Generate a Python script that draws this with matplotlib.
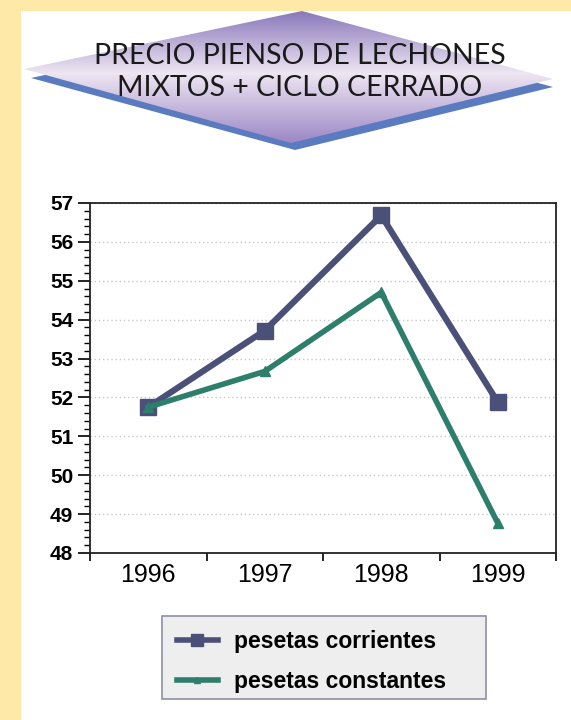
import matplotlib
matplotlib.use("Agg")
import matplotlib.pyplot as plt
import numpy as np
from matplotlib.patches import Polygon, Rectangle
from matplotlib.colors import LinearSegmentedColormap
from matplotlib.ticker import MultipleLocator
from matplotlib.lines import Line2D

years = ["1996", "1997", "1998", "1999"]
corrientes = [51.75, 53.72, 56.68, 51.88]
constantes = [51.75, 52.67, 54.70, 48.77]
series_labels = ["pesetas corrientes", "pesetas constantes"]
title_lines = ["PRECIO PIENSO DE LECHONES", "MIXTOS + CICLO CERRADO"]

W, H = 571, 720
fig = plt.figure(figsize=(W / 100, H / 100), dpi=100)
fig.patch.set_facecolor("#FEE9A9")

def fx(x):
    return x / W

def fy(y):
    return 1 - y / H

# white panel
fig.patches.append(Rectangle((fx(21), 0), 1 - fx(21), fy(11), transform=fig.transFigure,
                             facecolor="white", edgecolor="none", zorder=0))

# title diamond shadow
shadow = [(31, 78), (302, 19), (553, 87), (295, 150)]
fig.patches.append(Polygon([(fx(a), fy(b)) for a, b in shadow], closed=True,
                           transform=fig.transFigure, facecolor="#5A7BC0",
                           edgecolor="none", zorder=1))

# diamond with gradient
dia = [(24, 69), (302, 11), (553, 79), (291, 143)]
tax = fig.add_axes([fx(0), fy(160), 1, fy(0) - fy(160)], zorder=2)
tax.set_xlim(0, W)
tax.set_ylim(160, 0)
tax.axis("off")
tax.patch.set_alpha(0)
cmap = LinearSegmentedColormap.from_list(
    "g", [(0, "#8A78BB"), (0.47, "#EEE6F2"), (1, "#9C88C6")])
grad = np.linspace(0, 1, 200).reshape(-1, 1)
im = tax.imshow(grad, extent=(0, W, 143, 11), aspect="auto", cmap=cmap, zorder=2)
poly = Polygon(dia, closed=True, facecolor="none", edgecolor="none")
tax.add_patch(poly)
im.set_clip_path(poly)
tax.text(300, 56, title_lines[0], ha="center", va="center", fontsize=20.5,
         family="Lato", fontweight="normal", color="#1A1A1A", zorder=3)
tax.text(300, 88, title_lines[1], ha="center", va="center", fontsize=20.5,
         family="Lato", fontweight="normal", color="#1A1A1A", zorder=3)

# main chart
ax = fig.add_axes([fx(90), fy(553), fx(556) - fx(90), fy(203) - fy(553)], zorder=3)
x = np.arange(len(years))
ax.plot(x, corrientes, color="#4B5079", lw=4.5, marker="s", markersize=11,
        markerfacecolor="#4B5079", markeredgecolor="#4B5079", zorder=4)
ax.plot(x, constantes, color="#2E7E6C", lw=4, marker="^", markersize=7,
        markerfacecolor="#2E7E6C", markeredgecolor="#2E7E6C", zorder=5)
ax.set_xlim(-0.5, 3.5)
ax.set_ylim(48, 57)
ax.set_xticks(np.arange(-0.5, 4, 1))
ax.set_xticklabels([])
ax.set_xticks(x, minor=True)
ax.set_xticklabels(years, minor=True, fontsize=18, family="Liberation Sans")
ax.tick_params(axis="x", which="minor", length=0, pad=7)
ax.tick_params(axis="x", which="major", length=6, direction="out", width=1.2)
ax.yaxis.set_major_locator(MultipleLocator(1))
ax.yaxis.set_minor_locator(MultipleLocator(0.2))
ax.tick_params(axis="y", which="major", length=9, width=1.2, direction="out", pad=3)
ax.tick_params(axis="y", which="minor", length=4, width=1, direction="out")
for lab in ax.get_yticklabels():
    lab.set_fontsize(15)
    lab.set_fontweight("bold")
    lab.set_family("Liberation Sans")
ax.grid(axis="y", which="major", color="#C8C8C8", linestyle=(0, (1, 2)), lw=1)
for s in ax.spines.values():
    s.set_linewidth(1.3)
    s.set_color("#222222")

# legend
fig.patches.append(Rectangle((fx(162), fy(699)), fx(486) - fx(162), fy(616) - fy(699),
                             transform=fig.transFigure, facecolor="#EEEEEE",
                             edgecolor="#9090A8", lw=1.2, zorder=3))
h1 = Line2D([], [], color="#4B5079", lw=4, marker="s", markersize=8)
h2 = Line2D([], [], color="#2E7E6C", lw=4, marker="^", markersize=5)
leg = fig.legend(handles=[h1, h2], labels=series_labels, loc="upper left",
                 bbox_to_anchor=(fx(172), fy(625)), frameon=False,
                 prop={"family": "Liberation Sans", "weight": "bold", "size": 16.5},
                 handlelength=1.8, borderpad=0.2, labelspacing=0.75, handletextpad=0.7,
                 borderaxespad=0)
leg.set_zorder(4)

fig.savefig("out.png", dpi=100, facecolor=fig.get_facecolor())
